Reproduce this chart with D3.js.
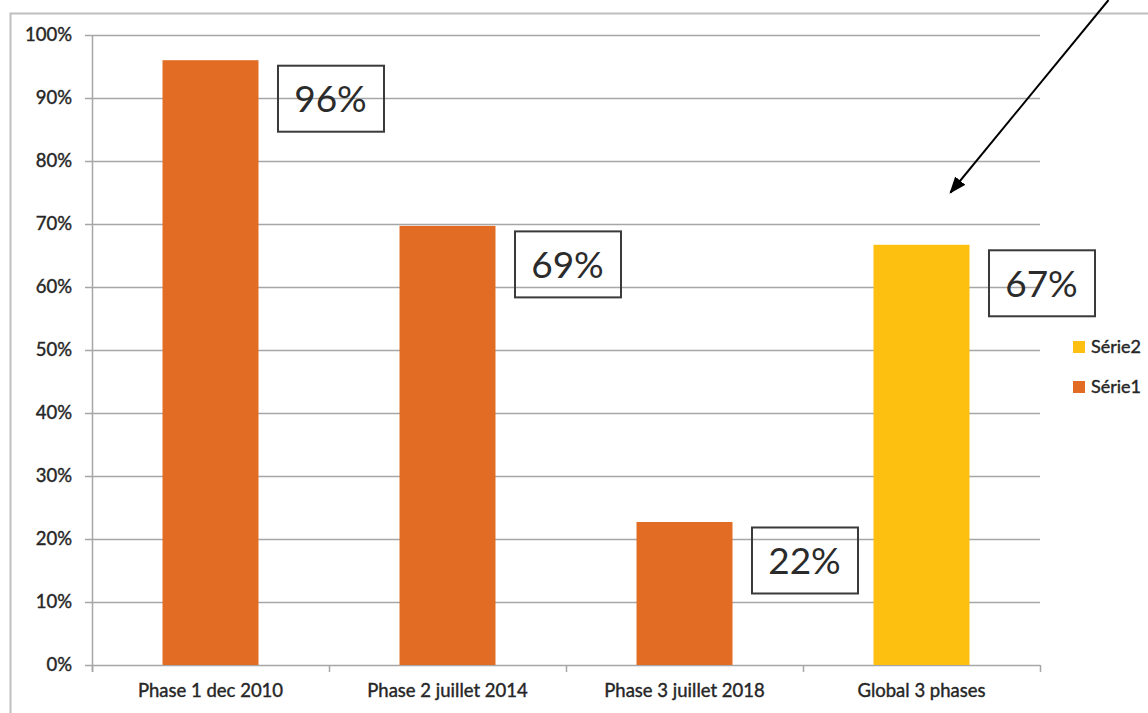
<!DOCTYPE html>
<html>
<head>
<meta charset="utf-8">
<script src="https://cdn.jsdelivr.net/npm/d3@7"></script>
<style>
  body { margin: 0; background: #fff; }
  svg text { font-family: Lato, "Open Sans", sans-serif; }
</style>
</head>
<body>
<div id="chart"></div>
<script>
var categories = ["Phase 1 dec 2010", "Phase 2 juillet 2014", "Phase 3 juillet 2018", "Global 3 phases"];
var values = [0.960, 0.697, 0.227, 0.667];
var series = ["Série1", "Série1", "Série1", "Série2"];
var valueLabels = ["96%", "69%", "22%", "67%"];
var yTicks = [0, 0.1, 0.2, 0.3, 0.4, 0.5, 0.6, 0.7, 0.8, 0.9, 1];
var legendItems = ["Série2", "Série1"];

var colors = {"Série1": "#e36c24", "Série2": "#fdbf10"};

var width = 1148, height = 713;

var svg = d3.select("#chart").append("svg")
    .attr("width", width)
    .attr("height", height);

// outer frame of the chart area (only top and left visible)
svg.append("path")
  .attr("d", "M10.5," + height + " V13.5 H" + width)
  .attr("fill", "none")
  .attr("stroke", "#bfbfbf")
  .attr("stroke-width", 2);

var x = d3.scaleBand()
    .domain(categories)
    .range([92, 1040])
    .paddingInner(0.595)
    .paddingOuter(0.2975);

var y = d3.scaleLinear()
    .domain([0, 1])
    .range([665, 35]);

// gridlines
svg.append("g")
  .selectAll("line")
  .data(yTicks)
  .enter().append("line")
  .attr("x1", 85)
  .attr("x2", 1040)
  .attr("y1", function(d) { return Math.round(y(d)) + 0.5; })
  .attr("y2", function(d) { return Math.round(y(d)) + 0.5; })
  .attr("stroke", "#a6a6a6")
  .attr("stroke-width", 1.5);

// y axis labels
var yAxis = d3.axisLeft(y)
    .tickValues(yTicks)
    .tickSize(0)
    .tickPadding(20)
    .tickFormat(d3.format(".0%"));

var gy = svg.append("g")
  .attr("transform", "translate(92,0)")
  .call(yAxis);
gy.select(".domain").remove();
gy.selectAll("text")
  .attr("font-size", 18.5)
  .attr("fill", "#262626")
  .attr("stroke", "#262626")
  .attr("stroke-width", 0.4)
  .style("font-family", "Lato, sans-serif");

// vertical axis line
svg.append("line")
  .attr("x1", 92.5).attr("x2", 92.5)
  .attr("y1", y(1)).attr("y2", 672)
  .attr("stroke", "#a6a6a6")
  .attr("stroke-width", 1.5);

// category boundary ticks
var bounds = [x(categories[0]) + x.bandwidth() / 2 - x.step() / 2]
  .concat(categories.map(function(c) { return x(c) + x.bandwidth() / 2 + x.step() / 2; }));

svg.append("g")
  .selectAll("line")
  .data(bounds)
  .enter().append("line")
  .attr("x1", function(d) { return Math.round(d) + 0.5; })
  .attr("x2", function(d) { return Math.round(d) + 0.5; })
  .attr("y1", y(0))
  .attr("y2", 672)
  .attr("stroke", "#a6a6a6")
  .attr("stroke-width", 1.5);

// x labels
svg.append("g")
  .selectAll("text")
  .data(categories)
  .enter().append("text")
  .attr("x", function(d) { return x(d) + x.bandwidth() / 2; })
  .attr("y", 697)
  .attr("text-anchor", "middle")
  .attr("font-size", 18.5)
  .attr("fill", "#262626")
  .attr("stroke", "#262626")
  .attr("stroke-width", 0.4)
  .text(function(d) { return d; });

// bars
svg.append("g")
  .selectAll("rect")
  .data(categories)
  .enter().append("rect")
  .attr("x", function(d) { return x(d); })
  .attr("width", x.bandwidth())
  .attr("y", function(d, i) { return y(values[i]); })
  .attr("height", function(d, i) { return y(0) - y(values[i]); })
  .attr("fill", function(d, i) { return colors[series[i]]; });

// value label boxes
var boxes = svg.append("g")
  .selectAll("g")
  .data(categories)
  .enter().append("g")
  .attr("transform", function(d, i) {
    return "translate(" + (x(d) + x.bandwidth() + 19) + "," + (y(values[i]) + 5) + ")";
  });

boxes.append("rect")
  .attr("x", 0.5).attr("y", 0.5)
  .attr("width", 106).attr("height", 66)
  .attr("fill", "none")
  .attr("stroke", "#3a3a3a")
  .attr("stroke-width", 2);

boxes.append("text")
  .attr("x", 53)
  .attr("y", 47)
  .attr("text-anchor", "middle")
  .attr("font-size", 37)
  .attr("fill", "#2b2b2b")
  .text(function(d, i) { return valueLabels[i]; });

// legend
var legend = svg.append("g")
  .selectAll("g")
  .data(legendItems)
  .enter().append("g")
  .attr("transform", function(d, i) { return "translate(1073," + (341 + i * 40) + ")"; });

legend.append("rect")
  .attr("width", 12).attr("height", 12)
  .attr("fill", function(d) { return colors[d]; });

legend.append("text")
  .attr("x", 18)
  .attr("y", 12)
  .attr("font-size", 18)
  .attr("fill", "#262626")
  .attr("stroke", "#262626")
  .attr("stroke-width", 0.4)
  .text(function(d) { return d; });

// arrow annotation pointing at the global bar
svg.append("defs").append("marker")
  .attr("id", "arrowhead")
  .attr("viewBox", "0 0 10 10")
  .attr("refX", 9)
  .attr("refY", 5)
  .attr("markerWidth", 17)
  .attr("markerHeight", 13)
  .attr("markerUnits", "userSpaceOnUse")
  .attr("orient", "auto")
  .attr("preserveAspectRatio", "none")
  .append("path")
  .attr("d", "M0,0 L10,5 L0,10 Z")
  .attr("fill", "#000");

var tipX = x(categories[3]) + 77, tipY = y(0.75);
svg.append("line")
  .attr("x1", tipX + 158)
  .attr("y1", 0)
  .attr("x2", tipX)
  .attr("y2", tipY)
  .attr("stroke", "#000")
  .attr("stroke-width", 2)
  .attr("marker-end", "url(#arrowhead)");
</script>
</body>
</html>
